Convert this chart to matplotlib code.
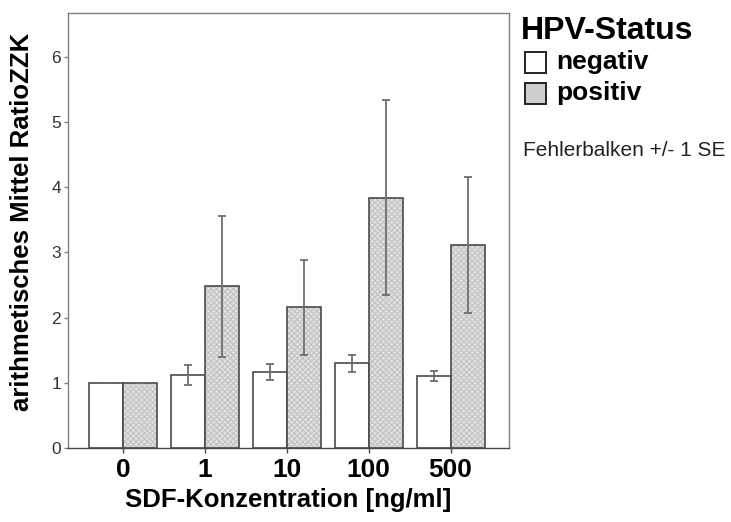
import matplotlib.pyplot as plt
import numpy as np
from matplotlib.patches import Rectangle

plt.rcParams.update(
    {
        "font.family": ["Liberation Sans", "DejaVu Sans"],
        "axes.linewidth": 1.0,
    }
)

# =============================================================================
# Data
# =============================================================================

CATEGORIES = ["0", "1", "10", "100", "500"]
GROUP_LABELS = ["negativ", "positiv"]

MEAN_NEG = [1.00, 1.12, 1.17, 1.30, 1.10]
SE_NEG = [0.00, 0.15, 0.12, 0.13, 0.08]

MEAN_POS = [1.00, 2.48, 2.16, 3.84, 3.11]
SE_POS = [0.00, 1.08, 0.73, 1.49, 1.04]

Y_TICKS = [0, 1, 2, 3, 4, 5, 6]

# =============================================================================
# Style
# =============================================================================

BAR_WIDTH = 0.415
EDGE = "#4a4a4a"
POS_FILL = "#e2e2e2"
HATCH_COLOR = "#c6c6c6"
ERR_COLOR = "#6e6e6e"
FRAME = "#808080"


def main():
    fig = plt.figure(figsize=(7.31, 5.22), dpi=100)
    ax = fig.add_axes([0.093, 0.1418, 0.603, 0.8332])

    x = np.arange(len(CATEGORIES))
    x_neg = x - BAR_WIDTH / 2
    x_pos = x + BAR_WIDTH / 2

    # negative bars
    ax.bar(x_neg, MEAN_NEG, width=BAR_WIDTH, facecolor="white",
           edgecolor=EDGE, linewidth=1.2, zorder=2)

    # positive bars: hatched fill first, then outline
    ax.bar(x_pos, MEAN_POS, width=BAR_WIDTH, facecolor=POS_FILL,
           edgecolor=HATCH_COLOR, hatch="xxxxxx", linewidth=0, zorder=2)
    ax.bar(x_pos, MEAN_POS, width=BAR_WIDTH, facecolor="none",
           edgecolor=EDGE, linewidth=1.2, zorder=3)

    # error bars
    ax.errorbar(x_neg, MEAN_NEG, yerr=SE_NEG, fmt="none", ecolor=ERR_COLOR,
                elinewidth=1.3, capsize=3, capthick=1.3, zorder=4)
    ax.errorbar(x_pos, MEAN_POS, yerr=SE_POS, fmt="none", ecolor=ERR_COLOR,
                elinewidth=1.3, capsize=3, capthick=1.3, zorder=4)

    ax.set_xlim(-0.67, 4.71)
    ax.set_ylim(0, 6.67)

    ax.set_xticks(x)
    ax.set_xticklabels(CATEGORIES, fontsize=19, fontweight="bold")
    ax.set_yticks(Y_TICKS)
    ax.set_yticklabels([str(t) for t in Y_TICKS], fontsize=12.5, color="#333333")

    ax.tick_params(axis="x", direction="out", length=3.5, width=1.0,
                   color=EDGE, pad=4)
    ax.tick_params(axis="y", direction="out", length=3, width=1.0,
                   color=FRAME, pad=2)

    for side in ["top", "right", "left"]:
        ax.spines[side].set_color(FRAME)
    ax.spines["bottom"].set_color(EDGE)

    ax.set_xlabel("SDF-Konzentration [ng/ml]", fontsize=18.5,
                  fontweight="bold", labelpad=4)
    ax.set_ylabel("arithmetisches Mittel RatioZZK", fontsize=18.5,
                  fontweight="bold")
    ax.yaxis.set_label_coords(-0.077, 0.52)

    # legend drawn by hand to match the layout
    fig.text(521 / 731, 1 - 31 / 522, "HPV-Status", fontsize=23,
             fontweight="bold", ha="left", va="center")
    fills = ["white", "#cfcfcf"]
    for i, (label, fill) in enumerate(zip(GROUP_LABELS, fills)):
        y_px = 62 + i * 31
        box = Rectangle((525 / 731, 1 - (y_px + 10.5) / 522), 21 / 731,
                        21 / 522, transform=fig.transFigure, facecolor=fill,
                        edgecolor="#222222", linewidth=1.4)
        fig.add_artist(box)
        fig.text(556 / 731, 1 - y_px / 522, label, fontsize=19,
                 fontweight="bold", ha="left", va="center")

    fig.text(523 / 731, 1 - 150 / 522, "Fehlerbalken +/- 1 SE", fontsize=15,
             ha="left", va="center", color="#222222")

    fig.savefig("out.png", dpi=100)
    plt.close(fig)


if __name__ == "__main__":
    main()
